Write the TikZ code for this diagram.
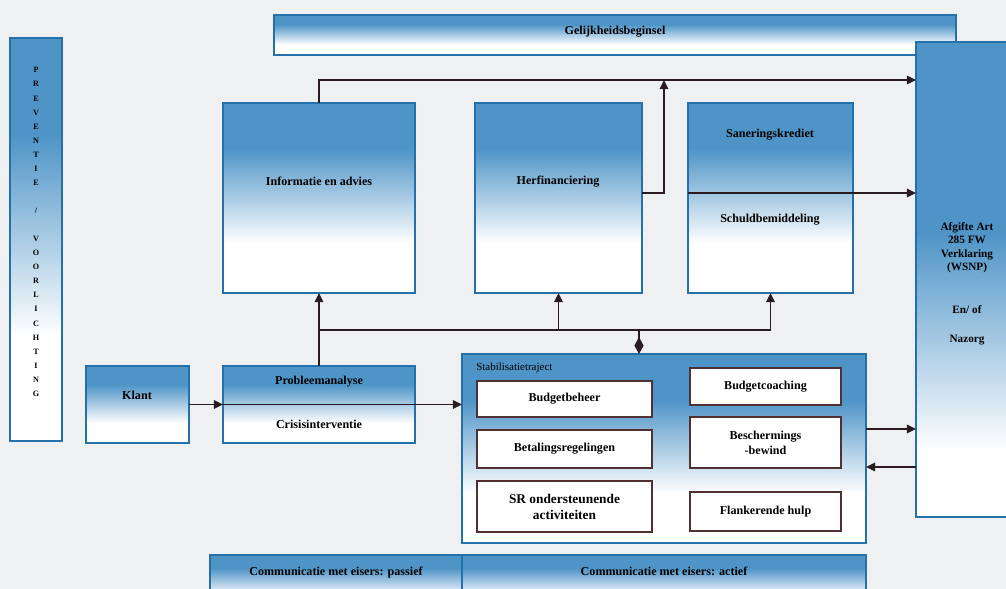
\documentclass[tikz,border=0pt]{standalone}
\usepackage{fontspec}
\setmainfont{Liberation Serif}
\usetikzlibrary{arrows.meta}

\definecolor{bgcol}{RGB}{238,240,241}
\definecolor{edgeblue}{RGB}{36,112,170}
\definecolor{fadeblue}{RGB}{78,148,199}
\definecolor{innerline}{RGB}{80,48,50}
\definecolor{linecol}{RGB}{40,28,32}

\pgfdeclareverticalshading{bluefade}{100bp}{color(0bp)=(white); color(38bp)=(white); color(63bp)=(fadeblue); color(100bp)=(fadeblue)}
\pgfdeclareverticalshading{tallfade}{100bp}{color(0bp)=(white); color(32bp)=(white); color(55bp)=(fadeblue); color(100bp)=(fadeblue)}

\tikzset{
  bluebox/.style={draw=edgeblue, line width=1.8pt, shading=bluefade, inner sep=0pt, outer sep=0pt},
  whitebox/.style={draw=innerline, line width=0.9pt, fill=white, inner sep=1pt, outer sep=0pt, align=center, font=\fontsize{8.6}{10.7}\selectfont\bfseries},
  lbl/.style={font=\fontsize{8.6}{10}\selectfont\bfseries, inner sep=0pt, align=center},
  arr/.style={draw=linecol, line width=1.2pt, -{Triangle[length=6.5pt,width=6pt]}},
  wire/.style={draw=linecol, line width=1.2pt},
}

\begin{document}
\begin{tikzpicture}[x=0.025cm, y=-0.025cm]
    \useasboundingbox (0,0) rectangle (1006,589);
    \clip (0,0) rectangle (1006,589);
    \fill[bgcol] (0,0) rectangle (1006,589);

    % side bar
    \node[bluebox, minimum width=1.3cm, minimum height=10.075cm] (prev) at (36,239.5) {};
    \node[font=\fontsize{5.8}{10}\selectfont\bfseries, align=center, inner sep=0pt] (prevtxt) at (36,232)
        {P\\R\\E\\V\\E\\N\\T\\I\\E\\[10pt]/\\[10pt]V\\O\\O\\R\\L\\I\\C\\H\\T\\I\\N\\G};

    % top bar and right column
    \node[bluebox, minimum width=17.05cm, minimum height=1cm] (gelijk) at (615,35) {};
    \node[lbl] (gelijktxt) at (615,32) {Gelijkheidsbeginsel};
    \node[bluebox, shading=tallfade, minimum width=2.6cm, minimum height=11.875cm] (afg) at (968,279.5) {};
    \node[lbl, font=\fontsize{8}{9.6}\selectfont\bfseries] (afgtxt) at (967,284)
        {Afgifte Art\\285 FW\\Verklaring\\(WSNP)\\[21pt]En/ of\\[11pt]Nazorg};

    % upper row
    \node[bluebox, minimum width=4.8cm, minimum height=4.75cm] (info) at (319,198) {};
    \node[lbl] (infotxt) at (319,181) {Informatie en advies};
    \node[bluebox, minimum width=4.175cm, minimum height=4.75cm] (herf) at (558.5,198) {};
    \node[lbl] (herftxt) at (558,182) {Herfinanciering};
    \node[bluebox, minimum width=4.125cm, minimum height=4.75cm] (saner) at (770.5,198) {};
    \node[lbl] (sanertxt) at (770,135) {Saneringskrediet};
    \node[lbl] (schuldtxt) at (770,220) {Schuldbemiddeling};

    % lower row
    \node[bluebox, minimum width=2.575cm, minimum height=1.925cm] (klant) at (137.5,404.5) {};
    \node[lbl] (klanttxt) at (137,395) {Klant};
    \node[bluebox, minimum width=4.8cm, minimum height=1.925cm] (prob) at (319,404.5) {};
    \node[lbl] (probtxt) at (319,382) {Probleemanalyse};
    \node[lbl] (crisistxt) at (319,424) {Crisisinterventie};

    % stabilisatie
    \node[bluebox, minimum width=10.1cm, minimum height=4.725cm] (stab) at (664,448.5) {};
    \node[font=\fontsize{7.8}{9}\selectfont, anchor=west, inner sep=0pt] (stabtxt) at (476,368) {Stabilisatietraject};
    \node[whitebox, minimum width=4.375cm, minimum height=0.9cm] (beheer) at (564.5,399) {Budgetbeheer};
    \node[whitebox, minimum width=4.375cm, minimum height=0.95cm] (betal) at (564.5,449) {Betalingsregelingen};
    \node[whitebox, minimum width=4.375cm, minimum height=1.275cm, font=\fontsize{9.5}{11.4}\selectfont\bfseries] (sr) at (564.5,506.5) {SR ondersteunende\\activiteiten};
    \node[whitebox, minimum width=3.775cm, minimum height=0.925cm] (coach) at (765.5,386.5) {Budgetcoaching};
    \node[whitebox, minimum width=3.775cm, minimum height=1.275cm] (bewind) at (765.5,442.5) {Beschermings\\-bewind};
    \node[whitebox, minimum width=3.775cm, minimum height=0.975cm] (flank) at (765.5,511.5) {Flankerende hulp};

    % bottom bars
    \node[bluebox, minimum width=6.3cm, minimum height=1.375cm] (passief) at (336,582.5) {};
    \node[lbl, anchor=base] (passieftxt) at (336,575) {Communicatie met eisers: passief};
    \node[bluebox, minimum width=10.1cm, minimum height=1.375cm] (actief) at (664,582.5) {};
    \node[lbl, anchor=base] (actieftxt) at (664,575) {Communicatie met eisers: actief};

    % connectors
    \coordinate (rail) at (664,80);
    \coordinate (split) at (664,193);
    \coordinate (bus) at (639,330);
    \coordinate (out1) at (866,429);
    \coordinate (in1) at (866,467);

    \draw[arr] (info.north) |- (rail -| afg.west);
    \draw[arr] (herf.east |- split) -- (split) -- (rail);
    \draw[arr] (saner.west |- split) -- (split -| afg.west);

    \draw[arr] (prob.north) -- (info.south);
    \draw[wire] (prob.north |- bus) -- (bus -| saner.south);
    \draw[arr] (bus -| herf.south) -- (herf.south);
    \draw[arr] (bus -| saner.south) -- (saner.south);
    \draw[wire, {Diamond[length=12pt,width=6.5pt]}-] (bus |- stab.north) -- (bus);

    \draw[arr] (klant) -- (prob);
    \draw[arr] (prob.west) -- (stab.west |- prob.west);
    \draw[arr] (out1) -- (out1 -| afg.west);
    \draw[arr] (in1 -| afg.west) -- (in1);
\end{tikzpicture}
\end{document}
